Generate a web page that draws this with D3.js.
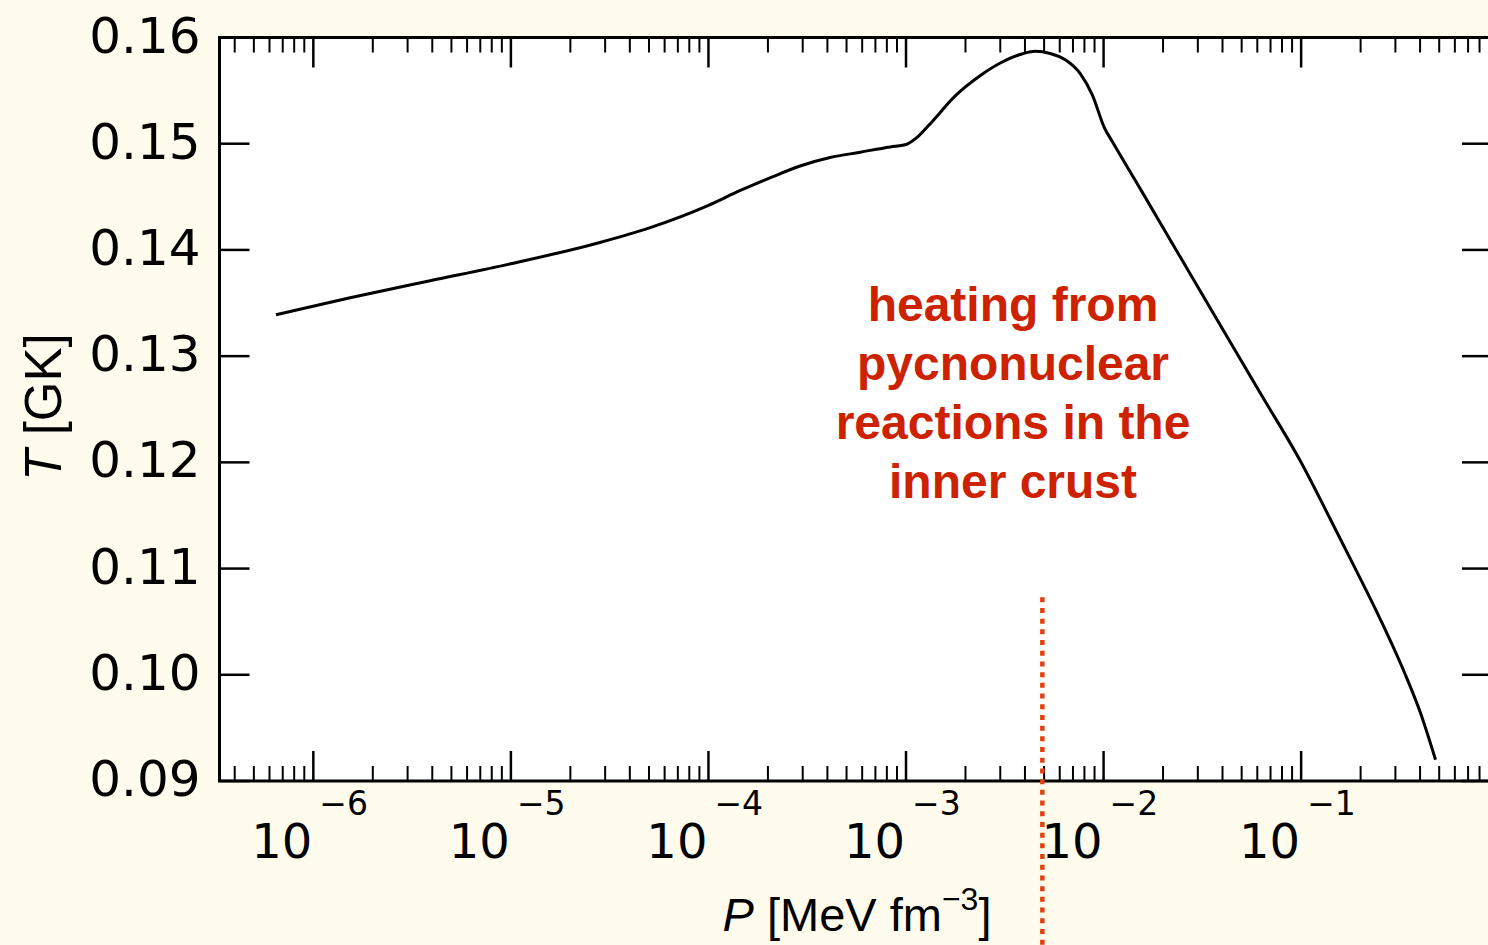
<!DOCTYPE html>
<html>
<head>
<meta charset="utf-8">
<script src="https://cdn.jsdelivr.net/npm/d3@7"></script>
<style>
html,body{margin:0;padding:0;background:#fffcee;}
svg{display:block;}
</style>
</head>
<body>
<svg id="chart" width="1488" height="945"></svg>
<script>
// ---- data ----
const pressure = [6.47e-7, 1.535e-6, 3.90e-6, 1.0e-5, 2.82e-5, 5.07e-5, 1.0e-4, 1.45e-4, 2.06e-4, 2.91e-4,
  4.13e-4, 5.86e-4, 8.32e-4, 9.91e-4, 1.153e-3, 1.358e-3, 1.775e-3, 2.37e-3, 3.0e-3, 3.78e-3,
  4.51e-3, 5.37e-3, 6.4e-3, 7.62e-3, 8.77e-3, 1.01e-2, 1.107e-2, 1.54e-2, 2.45e-2, 3.90e-2, 6.22e-2,
  9.93e-2, 0.141, 0.188, 0.252, 0.337, 0.402, 0.479];
const temperature = [0.1339, 0.1355, 0.1371, 0.1387, 0.1407, 0.1421, 0.1442, 0.1456, 0.1468, 0.1479,
  0.1487, 0.1492, 0.1497, 0.1499, 0.1507, 0.1521, 0.1545, 0.1564, 0.1576, 0.1584,
  0.1587, 0.1585, 0.1579, 0.1566, 0.1546, 0.1515, 0.1502, 0.1457, 0.1393, 0.1329, 0.1265,
  0.1201, 0.1146, 0.1100, 0.1052, 0.1000, 0.0964, 0.0920];
const xTickExponents = [-6, -5, -4, -3, -2, -1];
const yTicks = [0.09, 0.10, 0.11, 0.12, 0.13, 0.14, 0.15, 0.16];
const yTickLabels = ["0.09", "0.10", "0.11", "0.12", "0.13", "0.14", "0.15", "0.16"];
const xDomain = [3.35e-7, 0.925];
const yDomain = [0.09, 0.16];
const markerP = 4.9e-3;      // dotted marker position
const markerTopT = 0.1073;   // where dotted marker starts
const annotationLines = ["heating from", "pycnonuclear", "reactions in the", "inner crust"];

// ---- layout ----
const W = 1488, H = 945;
const pL = 219.5, pR = 1492, pT = 37.5, pB = 781;
const svg = d3.select("#chart");
const x = d3.scaleLog().domain(xDomain).range([pL, pR]);
const y = d3.scaleLinear().domain(yDomain).range([pB, pT]);

svg.append("rect").attr("width", W).attr("height", H).attr("fill", "#fffcee");
svg.append("rect").attr("x", pL).attr("y", pT).attr("width", pR - pL).attr("height", pB - pT).attr("fill", "#ffffff");

// curve
const line = d3.line().x(d => x(d[0])).y(d => y(d[1])).curve(d3.curveMonotoneX);
svg.append("path").datum(pressure.map((p, i) => [p, temperature[i]]))
  .attr("d", line).attr("fill", "none").attr("stroke", "#000").attr("stroke-width", 3)
  .attr("stroke-linejoin", "round");

// ticks
const majorX = xTickExponents.map(e => Math.pow(10, e));
const minorX = [];
for (let e = -7; e <= 0; e++) for (let k = 2; k <= 9; k++) {
  const v = k * Math.pow(10, e);
  if (v > xDomain[0] && v < xDomain[1]) minorX.push(v);
}
const g = svg.append("g").attr("stroke", "#000");
const MAJ = 30, MIN = 15;
majorX.forEach(v => {
  g.append("line").attr("x1", x(v)).attr("x2", x(v)).attr("y1", pB).attr("y2", pB - MAJ).attr("stroke-width", 2.5);
  g.append("line").attr("x1", x(v)).attr("x2", x(v)).attr("y1", pT).attr("y2", pT + MAJ).attr("stroke-width", 2.5);
});
minorX.forEach(v => {
  g.append("line").attr("x1", x(v)).attr("x2", x(v)).attr("y1", pB).attr("y2", pB - MIN).attr("stroke-width", 2);
  g.append("line").attr("x1", x(v)).attr("x2", x(v)).attr("y1", pT).attr("y2", pT + MIN).attr("stroke-width", 2);
});
yTicks.forEach(v => {
  g.append("line").attr("x1", pL).attr("x2", pL + MAJ).attr("y1", y(v)).attr("y2", y(v)).attr("stroke-width", 2.5);
  g.append("line").attr("x1", pR).attr("x2", pR - MAJ).attr("y1", y(v)).attr("y2", y(v)).attr("stroke-width", 2.5);
});
// frame
svg.append("rect").attr("x", pL).attr("y", pT).attr("width", pR - pL).attr("height", pB - pT)
  .attr("fill", "none").attr("stroke", "#000").attr("stroke-width", 3);

// y tick labels
svg.append("g").selectAll("text").data(yTicks).join("text")
  .attr("x", pL - 19).attr("y", d => y(d) + 15)
  .attr("text-anchor", "end").attr("font-family", "DejaVu Sans").attr("font-size", 50)
  .attr("fill", "#000").text((d, i) => yTickLabels[i]);

// x tick labels 10^e
const xl = svg.append("g").attr("font-family", "DejaVu Sans").attr("fill", "#000");
xTickExponents.forEach(e => {
  const px = x(Math.pow(10, e));
  xl.append("text").attr("x", px - 1).attr("y", 858).attr("text-anchor", "end").attr("font-size", 48).text("10");
  xl.append("text").attr("x", px + 6).attr("y", 815).attr("text-anchor", "start").attr("font-size", 33).text("\u2212" + Math.abs(e));
});

// axis labels
const xlab = svg.append("text").attr("x", 857).attr("y", 931).attr("text-anchor", "middle")
  .attr("font-family", "Liberation Sans, Arial, sans-serif").attr("font-size", 47).attr("fill", "#000");
xlab.append("tspan").attr("font-style", "italic").text("P");
xlab.append("tspan").text(" [MeV fm");
xlab.append("tspan").attr("font-size", 32).attr("dy", -21).text("\u22123");
xlab.append("tspan").attr("dy", 21).text("]");

const ylab = svg.append("text").attr("transform", "translate(61,407) rotate(-90)").attr("text-anchor", "middle")
  .attr("font-family", "Liberation Sans, Arial, sans-serif").attr("font-size", 51).attr("fill", "#000");
ylab.append("tspan").attr("font-style", "italic").text("T");
ylab.append("tspan").text(" [GK]");

// annotation
svg.append("g").selectAll("text").data(annotationLines).join("text")
  .attr("x", 1013).attr("y", (d, i) => 321 + i * 59).attr("text-anchor", "middle")
  .attr("font-family", "Liberation Sans, Arial, sans-serif").attr("font-weight", "bold")
  .attr("font-size", 48).attr("fill", "#cc2200").text(d => d);

// dotted marker
svg.append("line").attr("x1", x(markerP)).attr("x2", x(markerP))
  .attr("y1", y(markerTopT)).attr("y2", H)
  .attr("stroke", "#e2420f").attr("stroke-width", 4.5).attr("stroke-dasharray", "5,5.7");
</script>
</body>
</html>
